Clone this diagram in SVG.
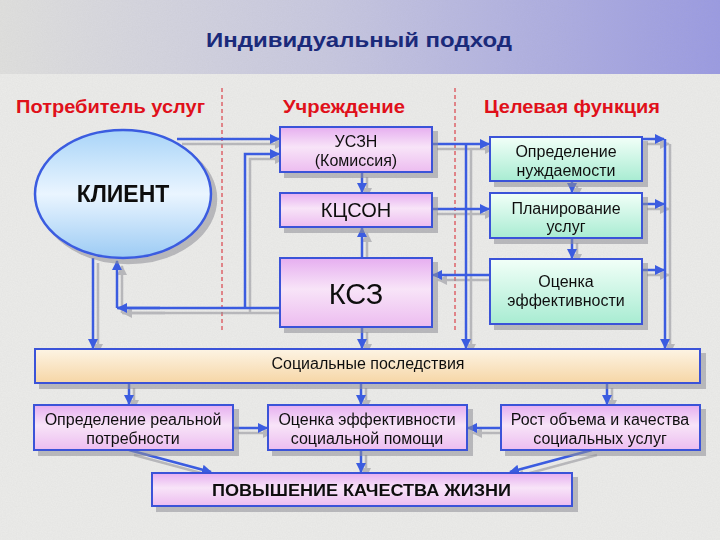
<svg xmlns="http://www.w3.org/2000/svg" width="720" height="540" viewBox="0 0 720 540">
<defs>
<linearGradient id="band" x1="0" y1="0" x2="1" y2="0">
<stop offset="0" stop-color="#e0e0de"/><stop offset="0.45" stop-color="#c8c8e0"/><stop offset="1" stop-color="#9a9ae2"/>
</linearGradient>
<linearGradient id="pink" x1="0" y1="0" x2="0" y2="1">
<stop offset="0" stop-color="#e6aef0"/><stop offset="0.45" stop-color="#f8e4f8"/><stop offset="1" stop-color="#ecbcf0"/>
</linearGradient>
<linearGradient id="green" x1="0" y1="0" x2="0" y2="1">
<stop offset="0" stop-color="#f2fff8"/><stop offset="1" stop-color="#a8ecd2"/>
</linearGradient>
<linearGradient id="peach" x1="0" y1="0" x2="0" y2="1">
<stop offset="0" stop-color="#fdf4e4"/><stop offset="1" stop-color="#f6d6a6"/>
</linearGradient>
<linearGradient id="blue" x1="0" y1="0" x2="0" y2="1">
<stop offset="0" stop-color="#a8d4f8"/><stop offset="0.5" stop-color="#eaf5ff"/><stop offset="1" stop-color="#9ccbf4"/>
</linearGradient>
<filter id="noise" x="0" y="0" width="100%" height="100%">
<feTurbulence type="fractalNoise" baseFrequency="0.8" numOctaves="2" seed="3"/>
<feColorMatrix type="matrix" values="0 0 0 0 0.4  0 0 0 0 0.4  0 0 0 0 0.4  0 0 0 0.35 0"/>
</filter>
<filter id="sh" x="-10%" y="-10%" width="130%" height="140%">
<feOffset in="SourceAlpha" dx="5" dy="5" result="o"/>
<feFlood flood-color="#8e8e96" flood-opacity="0.55"/>
<feComposite in2="o" operator="in" result="s"/>
<feMerge><feMergeNode in="s"/><feMergeNode in="SourceGraphic"/></feMerge>
</filter>
<marker id="ar" viewBox="0 0 10 10" refX="9" refY="5" markerWidth="4" markerHeight="4" orient="auto" markerUnits="strokeWidth">
<path d="M0,0 L10,5 L0,10 z" fill="#3a5ce0"/>
</marker>
<style>
.box{stroke:#3a52d8;stroke-width:2}
.t{font-family:"Liberation Sans",Arial,sans-serif;fill:#111;text-anchor:middle;font-size:16px}
.h{font-family:"Liberation Sans",Arial,sans-serif;font-weight:bold;fill:#e0101a;font-size:19px}
.c{fill:none;stroke:#3a5ce0;stroke-width:2.5;marker-end:url(#ar)}
.n{fill:none;stroke:#3a5ce0;stroke-width:2.5}
</style>
</defs>
<rect x="0" y="0" width="720" height="540" fill="#ececea"/>
<rect x="0" y="0" width="720" height="74" fill="url(#band)"/>
<rect x="0" y="0" width="720" height="540" filter="url(#noise)" opacity="0.35"/>
<text x="206" y="47" font-family="Liberation Sans, Arial, sans-serif" font-weight="bold" font-size="21" fill="#1a2a7a" textLength="306" lengthAdjust="spacingAndGlyphs">Индивидуальный подход</text>
<text class="h" x="16" y="113" textLength="189" lengthAdjust="spacingAndGlyphs">Потребитель услуг</text>
<text class="h" x="283" y="113" textLength="122" lengthAdjust="spacingAndGlyphs">Учреждение</text>
<text class="h" x="484" y="113" textLength="176" lengthAdjust="spacingAndGlyphs">Целевая функция</text>
<g stroke="#d8202a" stroke-width="1" stroke-dasharray="4,3">
<line x1="222" y1="88" x2="222" y2="330"/>
<line x1="455" y1="88" x2="455" y2="330"/>
</g>
<g id="connectors" filter="url(#sh)">
<path class="c" d="M177,139 H279"/>
<path class="n" d="M280,308 H117"/>
<path class="c" d="M245,308 V154 H279"/>
<path class="c" d="M117,308 V261"/>
<path class="c" d="M160,308 H118"/>
<path class="c" d="M93,258 V348"/>
<path class="c" d="M362,172 V192"/>
<path class="c" d="M362,258 V228"/>
<path class="c" d="M362,327 V348"/>
<path class="c" d="M432,144 H489"/>
<path class="c" d="M466,144 V348"/>
<path class="c" d="M432,209 H489"/>
<path class="c" d="M490,275 H433"/>
<path class="c" d="M572,181 V192"/>
<path class="c" d="M572,238 V258"/>
<path class="c" d="M642,139 H664"/>
<path class="c" d="M642,204 H664"/>
<path class="c" d="M642,270 H664"/>
<path class="c" d="M665,139 V348"/>
<path class="c" d="M129,383 V404"/>
<path class="c" d="M361,383 V404"/>
<path class="c" d="M607,383 V404"/>
<path class="c" d="M233,428 H267"/>
<path class="c" d="M501,428 H468"/>
<path class="c" d="M361,450 V472"/>
<path class="c" d="M129,450 L211,472"/>
<path class="c" d="M592,450 L510,472"/>
</g>
<g id="client" filter="url(#sh)">
<ellipse cx="123" cy="194" rx="88" ry="64" fill="url(#blue)" stroke="#3a5ce0" stroke-width="2.5"/>
<text class="t" x="123" y="202" style="font-size:23px;font-weight:bold">КЛИЕНТ</text>
</g>
<g id="uszn" filter="url(#sh)">
<rect class="box" x="280" y="127" width="152" height="45" fill="url(#pink)"/>
<text class="t" x="356" y="147">УСЗН</text>
<text class="t" x="356" y="166">(Комиссия)</text>
</g>
<g id="kcson" filter="url(#sh)">
<rect class="box" x="280" y="193" width="152" height="34" fill="url(#pink)"/>
<text class="t" x="356" y="217" style="font-size:20px">КЦСОН</text>
</g>
<g id="ksz" filter="url(#sh)">
<rect class="box" x="280" y="258" width="152" height="69" fill="url(#pink)"/>
<text class="t" x="356" y="304" style="font-size:29px">КСЗ</text>
</g>
<g id="need" filter="url(#sh)">
<rect class="box" x="490" y="137" width="152" height="44" fill="url(#green)"/>
<text class="t" x="566" y="157">Определение</text>
<text class="t" x="566" y="176">нуждаемости</text>
</g>
<g id="plan" filter="url(#sh)">
<rect class="box" x="490" y="193" width="152" height="45" fill="url(#green)"/>
<text class="t" x="566" y="214">Планирование</text>
<text class="t" x="566" y="232">услуг</text>
</g>
<g id="eval" filter="url(#sh)">
<rect class="box" x="490" y="259" width="152" height="65" fill="url(#green)"/>
<text class="t" x="566" y="287">Оценка</text>
<text class="t" x="566" y="306">эффективности</text>
</g>
<g id="social" filter="url(#sh)">
<rect class="box" x="35" y="349" width="665" height="34" fill="url(#peach)"/>
<text class="t" x="368" y="369">Социальные последствия</text>
</g>
<g id="real" filter="url(#sh)">
<rect class="box" x="34" y="405" width="199" height="45" fill="url(#pink)"/>
<text class="t" x="133" y="425">Определение реальной</text>
<text class="t" x="133" y="444">потребности</text>
</g>
<g id="effhelp" filter="url(#sh)">
<rect class="box" x="268" y="405" width="199" height="45" fill="url(#pink)"/>
<text class="t" x="367" y="425">Оценка эффективности</text>
<text class="t" x="367" y="444">социальной помощи</text>
</g>
<g id="growth" filter="url(#sh)">
<rect class="box" x="501" y="405" width="199" height="45" fill="url(#pink)"/>
<text class="t" x="600" y="425">Рост объема и качества</text>
<text class="t" x="600" y="444">социальных услуг</text>
</g>
<g id="quality" filter="url(#sh)">
<rect class="box" x="152" y="473" width="420" height="33" fill="url(#pink)"/>
<text class="t" x="212" y="496" textLength="299" lengthAdjust="spacingAndGlyphs" style="font-size:17px;font-weight:bold;text-anchor:start">ПОВЫШЕНИЕ КАЧЕСТВА ЖИЗНИ</text>
</g>
</svg>
